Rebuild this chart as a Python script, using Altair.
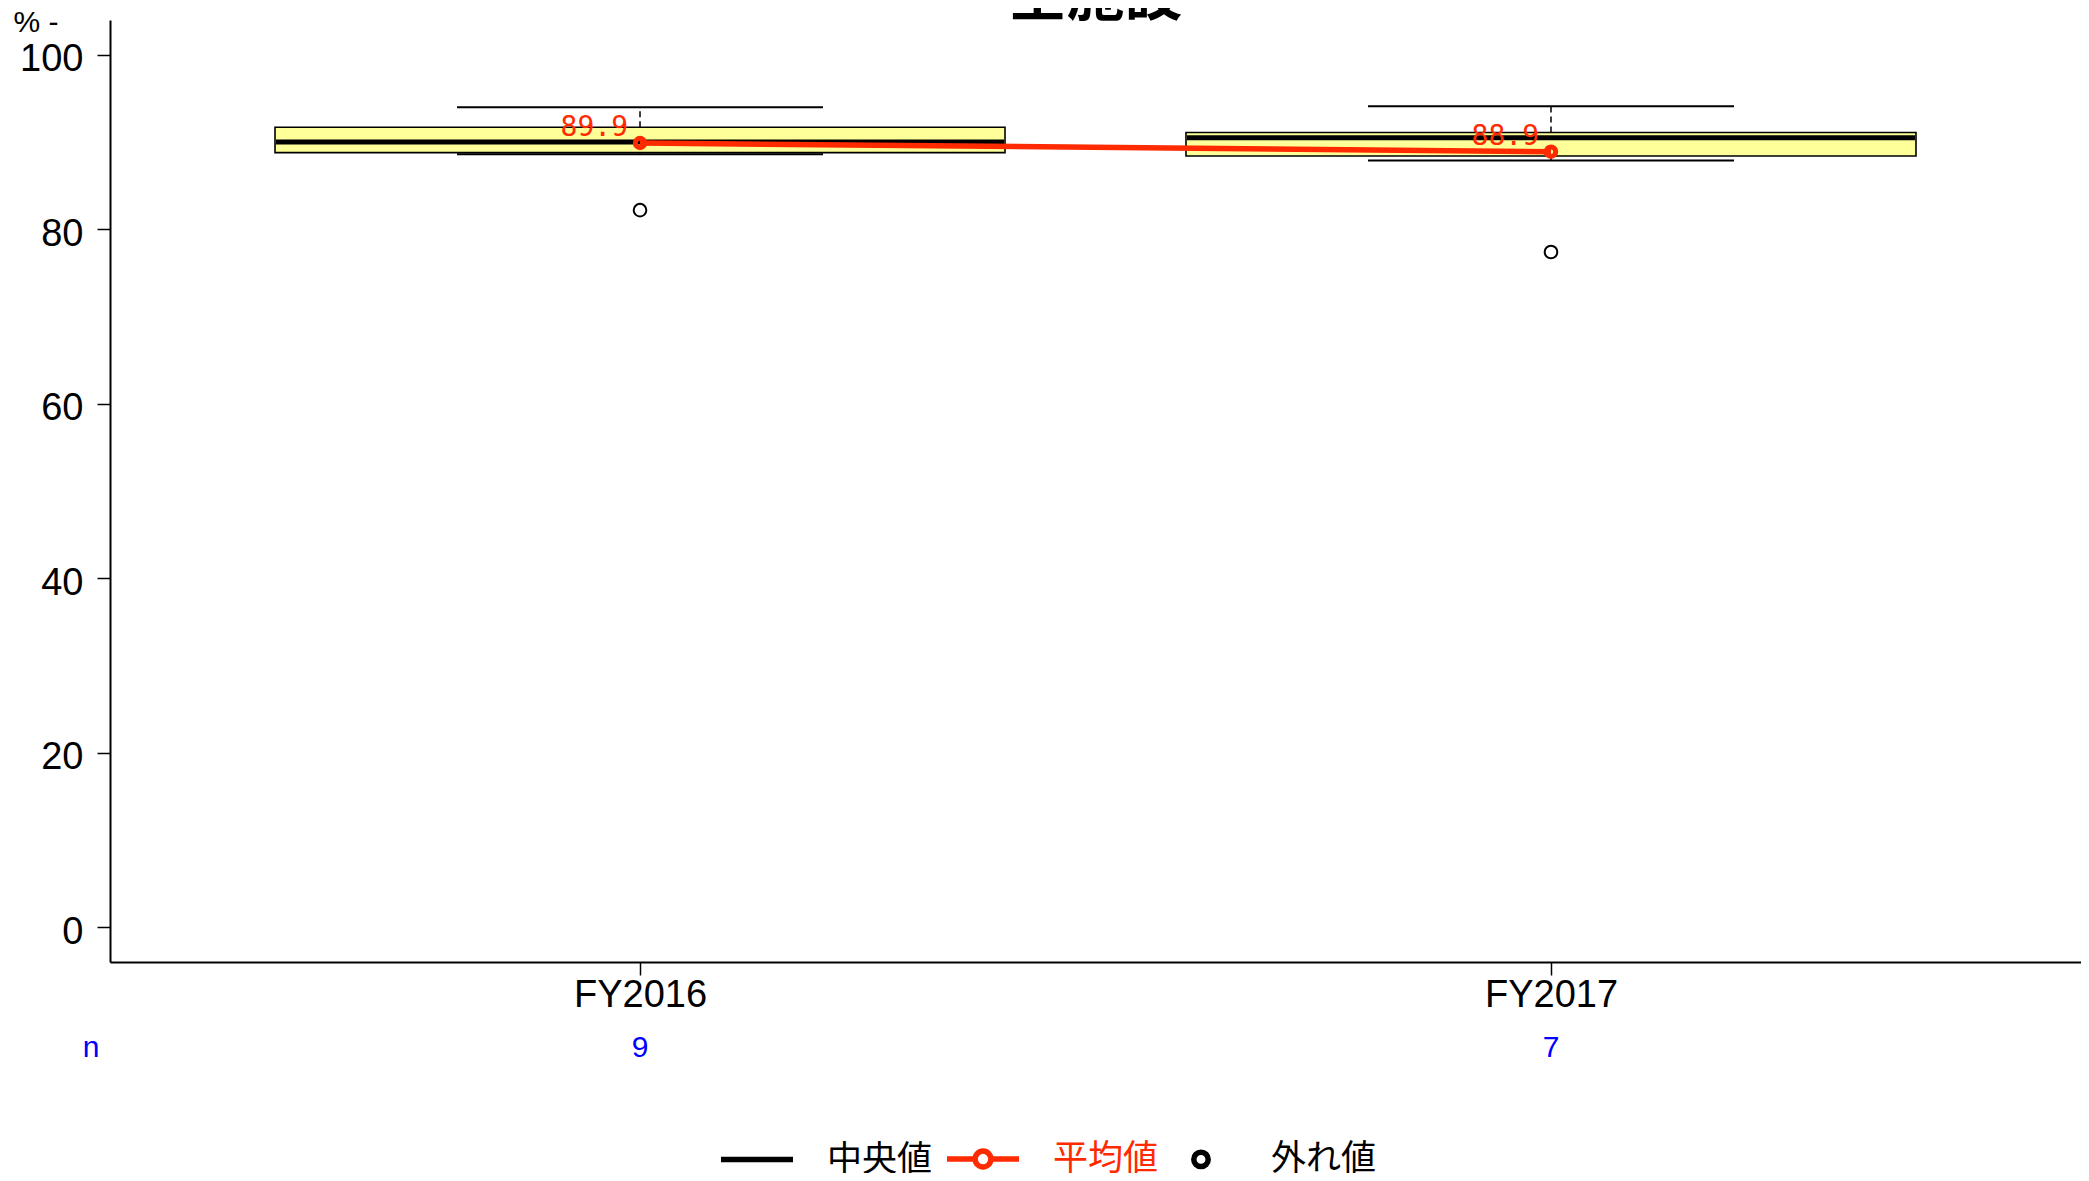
import altair as alt
import pandas as pd

# ---- data ----
years = ["FY2016", "FY2017"]
lower_whisker = [88.6, 87.9]
q1 = [88.8, 88.4]
median = [90.0, 90.5]
q3 = [91.7, 91.1]
upper_whisker = [94.0, 94.1]
means = [89.9, 88.9]
n_counts = [9, 7]
outlier_years = ["FY2016", "FY2017"]
outlier_values = [82.2, 77.4]
legend_labels = ["中央値", "平均値", "外れ値"]
y_ticks = [0, 20, 40, 60, 80, 100]
chart_title = "全施設"
y_title = "% -"

stats = pd.DataFrame({
    "year": years, "lo": lower_whisker, "q1": q1, "med": median,
    "q3": q3, "hi": upper_whisker, "mean": means, "n": n_counts,
})
outliers = pd.DataFrame({"year": outlier_years, "v": outlier_values})
legend_df = pd.DataFrame({"year": [years[0]] * 3, "v": [50] * 3, "item": legend_labels})
single = pd.DataFrame({"t": [chart_title], "n": ["n"]})

W, H = 1971, 942
RED = "#ff2a00"
NUM_FONT = "Liberation Sans"
CJK = "Noto Sans CJK JP"

x_scale = alt.Scale(type="point", domain=years, padding=0.5818)
y_scale = alt.Scale(domain=[-4, 104], nice=False, zero=False)

x_axis = alt.Axis(title=None, labelAngle=0, labelFont=NUM_FONT, labelFontSize=38,
                  labelColor="black", labelPadding=1, tickSize=13, tickWidth=1.5,
                  tickColor="black", domainColor="black", domainWidth=2, grid=False)
y_axis = alt.Axis(title=y_title, titleAngle=0, titleX=-97, titleY=11, titleAlign="left",
                  titleBaseline="alphabetic", titleFont=NUM_FONT, titleFontSize=30,
                  titleFontWeight="normal", titleColor="black",
                  values=y_ticks, labelFont=NUM_FONT, labelFontSize=38, labelColor="black",
                  labelPadding=14, labelOffset=5, tickSize=13, tickWidth=1.5, tickColor="black",
                  domainColor="black", domainWidth=2, grid=False)


def X():
    return alt.X("year:N", scale=x_scale, axis=x_axis)


def Y(field):
    return alt.Y(field, type="quantitative", scale=y_scale, axis=y_axis)


base = alt.Chart(stats)

whisk_up = base.mark_rule(color="black", strokeWidth=1.5, strokeDash=[6, 4], opacity=1).encode(
    x=X(), y=Y("q3"), y2="hi")
whisk_lo = base.mark_rule(color="black", strokeWidth=1.5, strokeDash=[6, 4], opacity=1).encode(
    x=X(), y=Y("lo"), y2="q1")
cap_up = base.mark_tick(color="black", size=366, thickness=2, opacity=1).encode(x=X(), y=Y("hi"))
cap_lo = base.mark_tick(color="black", size=366, thickness=2, opacity=1).encode(x=X(), y=Y("lo"))
box = base.mark_bar(size=730, fill="#ffff99", stroke="black", strokeWidth=1.6,
                    opacity=1).encode(x=X(), y=Y("q1"), y2="q3")
med = base.mark_tick(color="black", size=728, thickness=5, opacity=1).encode(x=X(), y=Y("med"))

out_pts = alt.Chart(outliers).mark_point(filled=False, color="black", size=160,
                                         strokeWidth=2, opacity=1).encode(x=X(), y=Y("v"))

mean_line = base.mark_line(color=RED, strokeWidth=5.5, opacity=1).encode(x=X(), y=Y("mean"))
mean_pts = base.mark_point(filled=False, color=RED, size=88, strokeWidth=5,
                           opacity=1).encode(x=X(), y=Y("mean"))
mean_lbl = base.mark_text(color=RED, font="DejaVu Sans Mono", fontSize=28, align="right",
                          baseline="alphabetic", dx=-12, dy=-7).encode(
    x=X(), y=Y("mean"), text=alt.Text("mean:Q", format=".1f"))

n_vals = base.mark_text(color="#0000ff", font="Liberation Sans", fontSize=30,
                        baseline="alphabetic").encode(
    x=X(), y=alt.value(1037), text="n:N")
n_head = alt.Chart(single).mark_text(color="#0000ff", font="Liberation Sans", fontSize=30,
                                     baseline="alphabetic").encode(
    x=alt.value(-19), y=alt.value(1037), text="n:N")

title_txt = alt.Chart(single).mark_text(font=CJK, fontSize=58, fontWeight="bold",
                                        color="black", baseline="alphabetic").encode(
    x=alt.value(W / 2), y=alt.value(-5), text="t:N")

leg_paths = [
    "M-1,0L1,0",
    "M-1,0L-0.22,0M0.22,0L1,0M-0.22,0A0.22,0.22,0,1,1,0.22,0A0.22,0.22,0,1,1,-0.22,0",
    "M-0.2,0A0.2,0.2,0,1,1,0.2,0A0.2,0.2,0,1,1,-0.2,0",
]
leg = alt.Legend(title=None, orient="none", legendX=608, legendY=1100, direction="horizontal",
                 symbolSize=5184, symbolStrokeWidth=5.5, symbolOpacity=1,
                 symbolFillColor="transparent",
                 labelFont=CJK, labelFontSize=35, labelOffset=31, columnPadding=3, padding=0,
                 labelColor={"expr": "datum.label === '平均値' ? '%s' : 'black'" % RED})
legend_layer = alt.Chart(legend_df).mark_point(filled=False, opacity=0).encode(
    x=X(), y=Y("v"),
    color=alt.Color("item:N", scale=alt.Scale(domain=legend_labels,
                                              range=["black", RED, "black"]), legend=leg),
    shape=alt.Shape("item:N", scale=alt.Scale(domain=legend_labels, range=leg_paths),
                    legend=leg),
)

chart = alt.layer(
    whisk_up, whisk_lo, cap_up, cap_lo, box, med, out_pts, mean_line, mean_pts, mean_lbl,
    n_vals, n_head, title_txt, legend_layer,
).properties(
    width=W, height=H,
    padding={"left": 102, "top": 12, "right": 0, "bottom": 211},
    autosize=alt.AutoSizeParams(type="none"),
    background="white",
).configure_view(stroke=None)

chart.save("out.html", embed_options={"renderer": "svg", "actions": False})
